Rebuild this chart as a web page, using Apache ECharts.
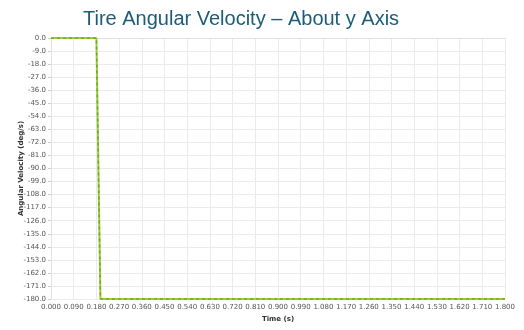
<!DOCTYPE html>
<html><head><meta charset="utf-8">
<script src="https://cdn.jsdelivr.net/npm/echarts@6/dist/echarts.min.js"></script>
<style>html,body{margin:0;padding:0;background:#fff}#c{width:524px;height:330px}</style>
</head><body><div id="c"></div>
<script>
var titleText = "Tire Angular Velocity \u2013 About y Axis";
var xName = "Time (s)";
var yName = "Angular Velocity (deg/s)";
var timeValues = [0.0, 0.18, 0.196, 1.8];
var velocityValues = [0.0, 0.0, -180.0, -180.0];

var data = timeValues.map(function(t, i){ return [t, velocityValues[i]]; });
var chart = echarts.init(document.getElementById('c'));
chart.setOption({
  animation: false,
  title: { text: titleText, left: 78, top: 4,
    textStyle: { fontFamily: 'Liberation Sans, Arial', fontSize: 20, fontWeight: 'normal', color: '#1b5c78' } },
  grid: { left: 51, right: 19, top: 38, bottom: 31 },
  xAxis: { type: 'value', min: 0, max: 1.8, interval: 0.09,
    name: xName, nameLocation: 'middle', nameGap: 17, nameMoveOverlap: false,
    nameTextStyle: { fontFamily: 'DejaVu Sans', fontSize: 7, fontWeight: 'bold', color: '#333' },
    axisLine: { show: true, lineStyle: { color: '#e0e0e0' } },
    axisTick: { show: false },
    axisLabel: { fontFamily: 'DejaVu Sans', fontSize: 7, color: '#555', margin: 5,
      formatter: function(v){ return (Math.round(v*1000)/1000).toFixed(3); } },
    splitLine: { show: true, lineStyle: { color: '#ebebeb', width: 1 } } },
  yAxis: { type: 'value', min: -180, max: 0, interval: 9,
    name: yName, nameLocation: 'middle', nameGap: 26, nameRotate: 90, nameMoveOverlap: false,
    nameTextStyle: { fontFamily: 'DejaVu Sans', fontSize: 7, fontWeight: 'bold', color: '#333' },
    axisLine: { show: true, lineStyle: { color: '#e0e0e0' } },
    axisTick: { show: true, length: 3, lineStyle: { color: '#ccc' } },
    axisLabel: { fontFamily: 'DejaVu Sans', fontSize: 7, color: '#555', margin: 5,
      formatter: function(v){ return v.toFixed(1); } },
    splitLine: { show: true, lineStyle: { color: '#ebebeb', width: 1 } } },
  series: [
    { type: 'line', data: data, symbol: 'none', z: 2,
      lineStyle: { color: '#9ccc3c', width: 2 } },
    { type: 'line', data: data, symbol: 'none', z: 3,
      lineStyle: { color: '#6ea81e', width: 1.5, type: [3, 3] } }
  ]
});
</script></body></html>
